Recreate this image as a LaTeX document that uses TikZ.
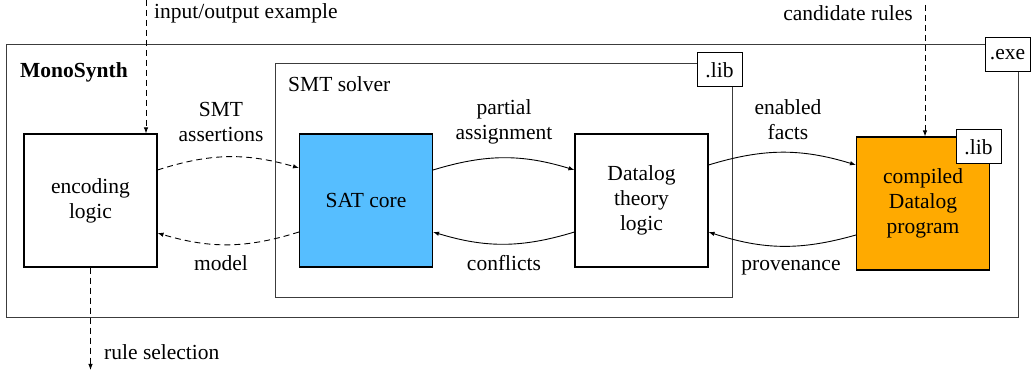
\documentclass[tikz,border=0pt]{standalone}
\usepackage{fontspec}
\setmainfont{Liberation Serif}
\usetikzlibrary{arrows.meta}
\definecolor{satblue}{RGB}{86,190,255}
\definecolor{dlorange}{RGB}{255,170,0}
\definecolor{framegray}{RGB}{60,60,60}
\begin{document}
\begin{tikzpicture}[x=1pt,y=1pt,
  font=\fontsize{21.5}{25}\selectfont,
  frame/.style={draw=framegray, line width=1pt, inner sep=0},
  block/.style={draw, line width=1.1pt, minimum width=133pt, minimum height=133pt,
    align=center, inner sep=0},
  tag/.style={draw, fill=white, line width=1pt, minimum width=45pt,
    minimum height=34pt, inner sep=0},
  lbl/.style={align=center, inner sep=0},
  flow/.style={-{Latex[length=6pt,width=4.5pt]}, line width=0.9pt},
  ioflow/.style={flow, dashed, dash pattern=on 6pt off 4pt}]
\useasboundingbox (0,0) rectangle (1035,374);

% containers
\node[frame, minimum width=1012pt, minimum height=273pt] (exebox) at (512,192.5) {};
\node[frame, minimum width=457pt, minimum height=234pt] (smtbox) at (503.5,193) {};
\node[anchor=west, inner sep=0, font=\fontsize{21.5}{25}\selectfont\bfseries] (mono) at (20,302) {MonoSynth};
\node[anchor=west, inner sep=0] (smtlbl) at (288,290) {SMT solver};

% components
\node[block] (enc) at (90.5,173.5) {encoding\\logic};
\node[block, fill=satblue] (sat) at (366,173.5) {SAT core};
\node[block] (dtl) at (641.5,173.5) {Datalog\\theory\\logic};
\node[block, fill=dlorange] (prog) at (923,170.5) {compiled\\Datalog\\program};

% artefact tags
\node[tag] (exetag) at (1007.5,319) {.exe};
\node[tag] (smttag) at (719.5,304) {.lib};
\node[tag] (progtag) at (978.5,227) {.lib};

% interaction between components
\draw[ioflow] ([yshift=30.5pt]enc.east) to[bend left=17] ([yshift=32.5pt]sat.west);
\draw[ioflow] ([yshift=-31.5pt]sat.west) to[bend left=17] ([yshift=-32.5pt]enc.east);
\draw[flow] ([yshift=30.5pt]sat.east) to[bend left=17] ([yshift=30.5pt]dtl.west);
\draw[flow] ([yshift=-31.5pt]dtl.west) to[bend left=17] ([yshift=-31.5pt]sat.east);
\draw[flow] ([yshift=35.5pt]dtl.east) to[bend left=17] ([yshift=38.5pt]prog.west);
\draw[flow] ([yshift=-31.5pt]prog.west) to[bend left=17] ([yshift=-31.5pt]dtl.east);

\node[lbl] (l1) at (221,252) {SMT\\assertions};
\node[lbl, anchor=base] (l2) at (221,103) {model};
\node[lbl] (l3) at (504,252) {partial\\assignment};
\node[lbl, anchor=base] (l4) at (504,103) {conflicts};
\node[lbl] (l5) at (788,254) {enabled\\facts};
\node[lbl, anchor=base] (l6) at (791,103) {provenance};

% external inputs and outputs
\coordinate (ioin) at (146,374);
\coordinate (candin) at (925,369);
\coordinate (selout) at (90.5,4);
\draw[ioflow] (ioin) -- (enc.north -| ioin);
\draw[ioflow] (candin) -- (prog.north -| candin);
\draw[ioflow] (enc.south) -- (selout);
\node[anchor=west, inner sep=0] (l7) at (154,361) {input/output example};
\node[anchor=east, inner sep=0] (l8) at (913,361) {candidate rules};
\node[anchor=west, inner sep=0] (l9) at (104,22) {rule selection};
\end{tikzpicture}
\end{document}
